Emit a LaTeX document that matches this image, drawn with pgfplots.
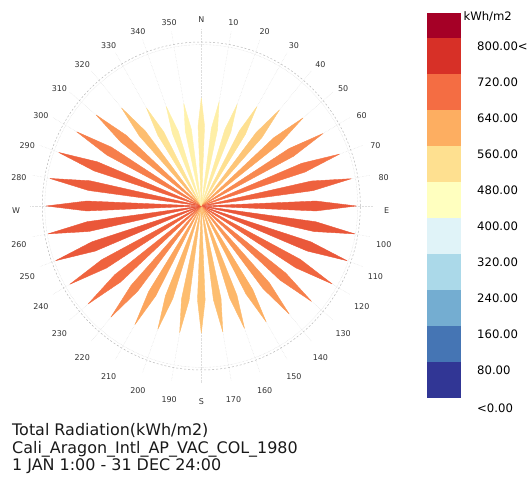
\documentclass[border=0pt]{standalone}
\usepackage{pgfplots}
\pgfplotsset{compat=1.18}
\usepackage{pgfplotstable}
\usepgfplotslibrary{patchplots}
\usepackage{fontspec}
\setmainfont{DejaVu Sans}

% bearing (deg, clockwise from N) and total radiation (kWh/m2)
\pgfplotstableread{
b v
0 508
10 497
20 508
30 539
40 589
50 643
60 681
70 712
80 738
90 751
100 755
110 751
120 732
130 697
140 662
150 628
160 612
170 601
180 597
190 604
200 616
210 643
220 681
230 716
240 735
250 751
260 753
270 751
280 745
290 735
300 697
310 665
320 601
330 531
340 497
350 489
}\rosedata

\definecolor{lb1}{RGB}{165,0,38}
\definecolor{lb2}{RGB}{215,48,39}
\definecolor{lb3}{RGB}{244,109,67}
\definecolor{lb4}{RGB}{253,174,97}
\definecolor{lb5}{RGB}{254,224,144}
\definecolor{lb6}{RGB}{255,255,191}
\definecolor{lb7}{RGB}{224,243,248}
\definecolor{lb8}{RGB}{171,217,233}
\definecolor{lb9}{RGB}{116,173,209}
\definecolor{lb10}{RGB}{69,117,180}
\definecolor{lb11}{RGB}{49,54,149}

\begin{document}
\begin{tikzpicture}[x=1bp,y=1bp]
\useasboundingbox (0,0) rectangle (529,477);
\def\cx{201.3}
\def\cy{271}
\def\rx{159}
\def\ry{164}
% radial grid
\foreach \a in {0,10,...,350}
  \draw[black!13, densely dotted, line width=0.45bp] (\cx,\cy) -- ({\cx+1.08*\rx*sin(\a)},{\cy+1.08*\ry*cos(\a)});
\draw[black!28, dash pattern=on 2bp off 2bp, line width=0.5bp] (\cx,\cy) ellipse [x radius=\rx, y radius=\ry];
\draw[black!18, densely dotted, line width=0.4bp] (\cx,\cy) ellipse [x radius=0.984*\rx, y radius=0.984*\ry];

\begin{axis}[at={(201.3bp,271bp)}, anchor=center, hide axis,
  xmin=-1000, xmax=1000, ymin=-1000, ymax=1000,
  x=0.20649bp, y=0.21299bp, clip=false,
  colormap={ladybug}{rgb255=(49,54,149) rgb255=(69,117,180) rgb255=(116,173,209) rgb255=(171,217,233) rgb255=(224,243,248) rgb255=(255,255,191) rgb255=(254,224,144) rgb255=(253,174,97) rgb255=(244,109,67) rgb255=(215,48,39) rgb255=(165,0,38)},
  point meta min=0, point meta max=900]
\pgfplotsforeachungrouped \i in {0,...,35}{%
  \pgfplotstablegetelem{\i}{b}\of\rosedata \let\B\pgfplotsretval
  \pgfplotstablegetelem{\i}{v}\of\rosedata \let\V\pgfplotsretval
  \edef\temp{\noexpand\addplot[patch, patch type=polygon, vertex count=4, shader=flat, point meta=explicit]
    coordinates {(0,0) [\V]
      ({0.74*\V*sin(\B-2.4)},{0.74*\V*cos(\B-2.4)}) [\V]
      ({\V*sin(\B)},{\V*cos(\B)}) [\V]
      ({0.74*\V*sin(\B+2.4)},{0.74*\V*cos(\B+2.4)}) [\V]};}%
  \temp
}
\end{axis}

% direction labels
\foreach \a/\t in {0/N,10/10,20/20,30/30,40/40,50/50,60/60,70/70,80/80,90/E,100/100,110/110,120/120,130/130,140/140,150/150,160/160,170/170,180/S,190/190,200/200,210/210,220/220,230/230,240/240,250/250,260/260,270/W,280/280,290/290,300/300,310/310,320/320,330/330,340/340,350/350}
  \node[text=black!80, font=\fontsize{8}{9}\selectfont, inner sep=0pt] at ({\cx+1.165*\rx*sin(\a)},{\cy-5+1.165*\ry*cos(\a)}) {\t};

% legend
\fill[lb1] (427,438.7) rectangle (461,464.3);
\foreach \k/\c in {2/lb2,3/lb3,4/lb4,5/lb5,6/lb6,7/lb7,8/lb8,9/lb9,10/lb10,11/lb11}
  \fill[\c] (427,{438.7-36*(\k-2)}) rectangle (461,{402.7-36*(\k-2)});
\node[anchor=west, inner sep=0pt, font=\fontsize{11.7}{13}\selectfont] at (463.3,460.3) {kWh/m2};
\foreach \j/\t in {0/800.00<,1/720.00,2/640.00,3/560.00,4/480.00,5/400.00,6/320.00,7/240.00,8/160.00,9/80.00}
  \node[anchor=west, inner sep=0pt, font=\fontsize{11.7}{13}\selectfont] at (477,{477-46.7-36*\j}) {\t};
\node[anchor=west, inner sep=0pt, font=\fontsize{11.7}{13}\selectfont] at (477,68.7) {<0.00};

% title block
\node[anchor=base west, inner sep=0pt, text=black!90, font=\fontsize{16}{18}\selectfont] at (12,41) {Total Radiation(kWh/m2)};
\node[anchor=base west, inner sep=0pt, text=black!90, font=\fontsize{16}{18}\selectfont] at (12,23.7) {Cali\_Aragon\_Intl\_AP\_VAC\_COL\_1980};
\node[anchor=base west, inner sep=0pt, text=black!90, font=\fontsize{16}{18}\selectfont] at (12,6) {1 JAN 1:00 - 31 DEC 24:00};
\end{tikzpicture}
\end{document}
